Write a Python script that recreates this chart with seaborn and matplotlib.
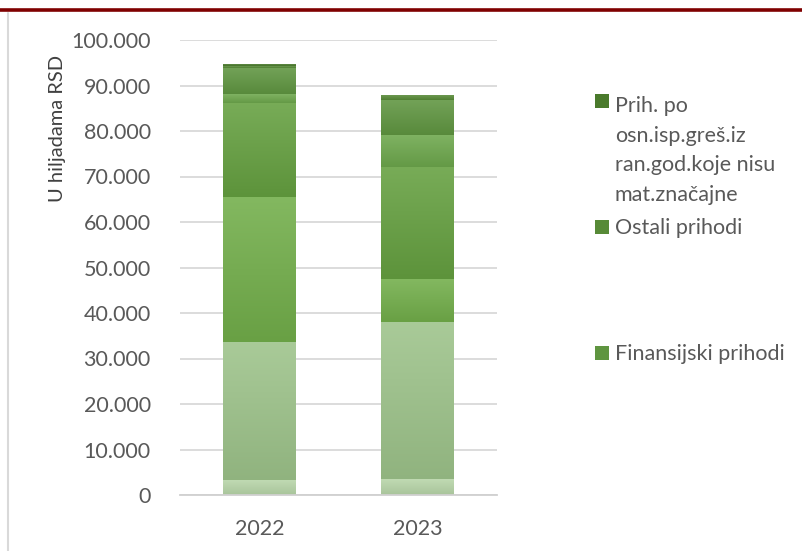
"""
Prihodi po godinama - naslagani stubici
"""

import numpy as np
import pandas as pd
import matplotlib
matplotlib.use("Agg")
import matplotlib.pyplot as plt
from matplotlib.colors import to_rgb
from matplotlib.lines import Line2D
from matplotlib.patches import Rectangle
import seaborn as sns

# Podaci (u hiljadama RSD), segmenti odozdo nagore
godine = ["2022", "2023"]
segment_1 = [3200, 3400]
segment_2 = [30250, 34700]
segment_3 = [32000, 9300]
segment_4 = [20600, 24600]
segment_5 = [1950, 7000]
finansijski_prihodi = [5900, 7900]
ostali_prihodi = [400, 900]
prih_ispravke = [300, 0]

segmenti = [segment_1, segment_2, segment_3, segment_4, segment_5,
            finansijski_prihodi, ostali_prihodi, prih_ispravke]
boje = ["#B7D5A8", "#9DC38A", "#72AE4A", "#65A040", "#6DA74C",
        "#5F9540", "#578A37", "#4A7A2C"]

legenda_tekst = ["Prih. po\nosn.isp.greš.iz\nran.god.koje nisu\nmat.značajne",
                 "Ostali prihodi", "Finansijski prihodi"]
legenda_indeks = [7, 6, 5]

y_tick_vrednosti = list(range(0, 100001, 10000))
y_naslov = "U hiljadama RSD"

SIVA = "#595959"
W, H = 803, 551


def gradijent(boja, n=64):
    """Vertikalni prelaz: svetlije gore, tamnije dole"""
    c = np.array(to_rgb(boja))
    gore = c + (1 - c) * 0.12
    dole = c * 0.92
    t = np.linspace(0, 1, n)[:, None]
    return (gore * (1 - t) + dole * t)[:, None, :]


def nacrtaj():
    sns.set_style("white")
    plt.rcParams["font.family"] = ["Lato", "DejaVu Sans"]

    fig = plt.figure(figsize=(W / 100, H / 100), dpi=100)
    ax = fig.add_axes([180 / W, 1 - 495 / H, 317 / W, 455 / H])

    # kumulativne sume, crtamo od najviseg ka najnizem
    kum = np.cumsum(np.array(segmenti), axis=0)
    stubici = {}
    for i in range(len(segmenti) - 1, -1, -1):
        df = pd.DataFrame({"godina": godine, "vrednost": kum[i]})
        pre = len(ax.patches)
        sns.barplot(data=df, x="godina", y="vrednost", color=boje[i],
                    saturation=1, width=0.46, ax=ax, linewidth=0)
        stubici[i] = ax.patches[pre:]

    # prelaz boje na vidljivom delu svakog segmenta
    for i, patches in stubici.items():
        for j, p in enumerate(patches):
            vrh = kum[i][j]
            dno = kum[i - 1][j] if i > 0 else 0
            if vrh - dno <= 0:
                continue
            ax.imshow(gradijent(boje[i]), aspect="auto", origin="upper",
                      extent=(p.get_x(), p.get_x() + p.get_width(), dno, vrh),
                      zorder=p.get_zorder() + 0.1 + (8 - i) * 0.01,
                      interpolation="bilinear")

    ax.set_xlim(-0.5, 1.5)
    ax.set_ylim(0, 100000)
    ax.set_yticks(y_tick_vrednosti)
    ax.set_yticklabels([f"{v:,.0f}".replace(",", ".") for v in y_tick_vrednosti])
    ax.set_xlabel("")
    ax.set_ylabel("")
    ax.yaxis.grid(True, color="#D9D9D9", linewidth=1.3)
    ax.set_axisbelow(True)
    for s in ["top", "right", "left"]:
        ax.spines[s].set_visible(False)
    ax.spines["bottom"].set_color("#D0D0D0")
    ax.spines["bottom"].set_linewidth(1.3)
    ax.tick_params(axis="both", length=0, labelsize=15.5, colors=SIVA)
    ax.tick_params(axis="y", pad=21)
    ax.tick_params(axis="x", pad=17)

    fig.text(58 / W, 1 - 128 / H, y_naslov, rotation=90, ha="center",
             va="center", fontsize=14.5, color="#404040")

    # legenda (marker u visini prvog reda teksta)
    legenda_y = [101, 227, 353]
    razmak = 31
    for tekst, idx, y in zip(legenda_tekst, legenda_indeks, legenda_y):
        fig.patches.append(Rectangle((595 / W, 1 - (y + 7) / H), 14 / W, 14 / H,
                                     transform=fig.transFigure,
                                     facecolor=boje[idx], edgecolor="none"))
        n_redova = tekst.count("\n")
        fig.text(615 / W, 1 - (y + 7 + razmak * n_redova) / H, tekst,
                 ha="left", va="baseline", fontsize=15.5, color=SIVA,
                 linespacing=1.6)

    # okvir
    fig.add_artist(Line2D([0, 1], [1 - 10 / H] * 2, color="#7F0000", lw=2.6,
                          transform=fig.transFigure))
    fig.add_artist(Line2D([8 / W] * 2, [0, 1 - 13 / H], color="#D9D9D9", lw=1.5,
                          transform=fig.transFigure))

    fig.savefig("out.png", dpi=100)
    print("Grafikon sacuvan: out.png")


if __name__ == "__main__":
    nacrtaj()
